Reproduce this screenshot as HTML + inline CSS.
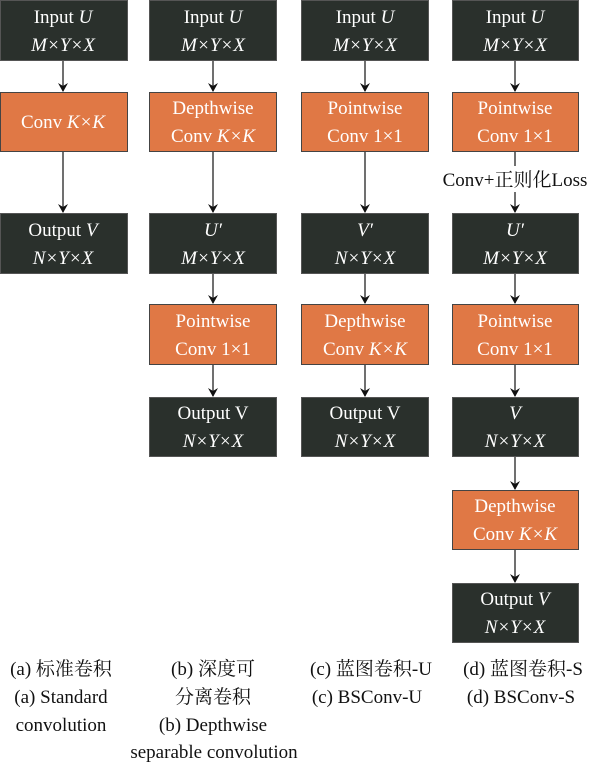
<!DOCTYPE html>
<html><head><meta charset="utf-8"><style>
html,body{margin:0;padding:0;background:#fff;}
svg{display:block;}
svg text{font-family:"Times New Roman",Times,"Liberation Serif","DejaVu Serif","Noto Serif CJK SC",serif;font-size:19px;}
.w{fill:#fff;text-anchor:middle;}
.k{fill:#111;text-anchor:middle;}
.d{fill:#2a302c;stroke:#555;stroke-width:1;}
.o{fill:#e07845;stroke:#444;stroke-width:1;}
.l{stroke:#222;stroke-width:1.3;}
</style></head><body>
<svg width="600" height="765" viewBox="0 0 600 765" xmlns="http://www.w3.org/2000/svg">
<defs><marker id="a" markerWidth="10" markerHeight="10" refX="8" refY="5" orient="auto" markerUnits="userSpaceOnUse"><path d="M0,0 L9,5 L0,10 L3,5 Z" fill="#111"/></marker></defs>
<rect class="d" x="0.5" y="0.5" width="127" height="60"/>
<text class="w" x="63" y="23">Input <tspan font-style="italic">U</tspan></text>
<text class="w" x="63" y="51" font-style="italic">M×Y×X</text>
<line class="l" x1="63" y1="61" x2="63" y2="91" marker-end="url(#a)"/>
<rect class="o" x="0.5" y="92.5" width="127" height="59"/>
<text class="w" x="63" y="128">Conv <tspan font-style="italic">K×K</tspan></text>
<line class="l" x1="63" y1="152" x2="63" y2="212" marker-end="url(#a)"/>
<rect class="d" x="0.5" y="213.5" width="127" height="60"/>
<text class="w" x="63" y="236">Output <tspan font-style="italic">V</tspan></text>
<text class="w" x="63" y="264" font-style="italic">N×Y×X</text>
<rect class="d" x="149.5" y="0.5" width="127" height="60"/>
<text class="w" x="213" y="23">Input <tspan font-style="italic">U</tspan></text>
<text class="w" x="213" y="51" font-style="italic">M×Y×X</text>
<line class="l" x1="213" y1="61" x2="213" y2="91" marker-end="url(#a)"/>
<rect class="o" x="149.5" y="92.5" width="127" height="59"/>
<text class="w" x="213" y="114">Depthwise</text>
<text class="w" x="213" y="142">Conv <tspan font-style="italic">K×K</tspan></text>
<line class="l" x1="213" y1="152" x2="213" y2="212" marker-end="url(#a)"/>
<rect class="d" x="149.5" y="213.5" width="127" height="60"/>
<text class="w" x="213" y="236" font-style="italic">U′</text>
<text class="w" x="213" y="264" font-style="italic">M×Y×X</text>
<line class="l" x1="213" y1="274" x2="213" y2="303" marker-end="url(#a)"/>
<rect class="o" x="149.5" y="304.5" width="127" height="60"/>
<text class="w" x="213" y="327">Pointwise</text>
<text class="w" x="213" y="355">Conv 1×1</text>
<line class="l" x1="213" y1="365" x2="213" y2="396" marker-end="url(#a)"/>
<rect class="d" x="149.5" y="397.5" width="127" height="59"/>
<text class="w" x="213" y="419">Output V</text>
<text class="w" x="213" y="447" font-style="italic">N×Y×X</text>
<rect class="d" x="301.5" y="0.5" width="127" height="60"/>
<text class="w" x="365" y="23">Input <tspan font-style="italic">U</tspan></text>
<text class="w" x="365" y="51" font-style="italic">M×Y×X</text>
<line class="l" x1="365" y1="61" x2="365" y2="91" marker-end="url(#a)"/>
<rect class="o" x="301.5" y="92.5" width="127" height="59"/>
<text class="w" x="365" y="114">Pointwise</text>
<text class="w" x="365" y="142">Conv 1×1</text>
<line class="l" x1="365" y1="152" x2="365" y2="212" marker-end="url(#a)"/>
<rect class="d" x="301.5" y="213.5" width="127" height="60"/>
<text class="w" x="365" y="236" font-style="italic">V′</text>
<text class="w" x="365" y="264" font-style="italic">N×Y×X</text>
<line class="l" x1="365" y1="274" x2="365" y2="303" marker-end="url(#a)"/>
<rect class="o" x="301.5" y="304.5" width="127" height="60"/>
<text class="w" x="365" y="327">Depthwise</text>
<text class="w" x="365" y="355">Conv <tspan font-style="italic">K×K</tspan></text>
<line class="l" x1="365" y1="365" x2="365" y2="396" marker-end="url(#a)"/>
<rect class="d" x="301.5" y="397.5" width="127" height="59"/>
<text class="w" x="365" y="419">Output V</text>
<text class="w" x="365" y="447" font-style="italic">N×Y×X</text>
<rect class="d" x="452.5" y="0.5" width="126" height="60"/>
<text class="w" x="515" y="23">Input <tspan font-style="italic">U</tspan></text>
<text class="w" x="515" y="51" font-style="italic">M×Y×X</text>
<line class="l" x1="515" y1="61" x2="515" y2="91" marker-end="url(#a)"/>
<rect class="o" x="452.5" y="92.5" width="126" height="59"/>
<text class="w" x="515" y="114">Pointwise</text>
<text class="w" x="515" y="142">Conv 1×1</text>
<line class="l" x1="515" y1="152" x2="515" y2="166"/>
<line class="l" x1="515" y1="192" x2="515" y2="212" marker-end="url(#a)"/>
<text class="k" x="515" y="186">Conv+正则化Loss</text>
<rect class="d" x="452.5" y="213.5" width="126" height="60"/>
<text class="w" x="515" y="236" font-style="italic">U′</text>
<text class="w" x="515" y="264" font-style="italic">M×Y×X</text>
<line class="l" x1="515" y1="274" x2="515" y2="303" marker-end="url(#a)"/>
<rect class="o" x="452.5" y="304.5" width="126" height="60"/>
<text class="w" x="515" y="327">Pointwise</text>
<text class="w" x="515" y="355">Conv 1×1</text>
<line class="l" x1="515" y1="365" x2="515" y2="396" marker-end="url(#a)"/>
<rect class="d" x="452.5" y="397.5" width="126" height="59"/>
<text class="w" x="515" y="419" font-style="italic">V</text>
<text class="w" x="515" y="447" font-style="italic">N×Y×X</text>
<line class="l" x1="515" y1="457" x2="515" y2="489" marker-end="url(#a)"/>
<rect class="o" x="452.5" y="490.5" width="126" height="59"/>
<text class="w" x="515" y="512">Depthwise</text>
<text class="w" x="515" y="540">Conv <tspan font-style="italic">K×K</tspan></text>
<line class="l" x1="515" y1="550" x2="515" y2="582" marker-end="url(#a)"/>
<rect class="d" x="452.5" y="583.5" width="126" height="59"/>
<text class="w" x="515" y="605">Output <tspan font-style="italic">V</tspan></text>
<text class="w" x="515" y="633" font-style="italic">N×Y×X</text>
<text class="k" x="61" y="675">(a) 标准卷积</text>
<text class="k" x="61" y="703">(a) Standard</text>
<text class="k" x="61" y="731">convolution</text>
<text class="k" x="213" y="675">(b) 深度可</text>
<text class="k" x="213" y="703">分离卷积</text>
<text class="k" x="213" y="731">(b) Depthwise</text>
<text class="k" x="214" y="758">separable convolution</text>
<text class="k" x="371" y="675">(c) 蓝图卷积-U</text>
<text class="k" x="367" y="703">(c) BSConv-U</text>
<text class="k" x="523" y="675">(d) 蓝图卷积-S</text>
<text class="k" x="521" y="703">(d) BSConv-S</text>
</svg>
</body></html>
